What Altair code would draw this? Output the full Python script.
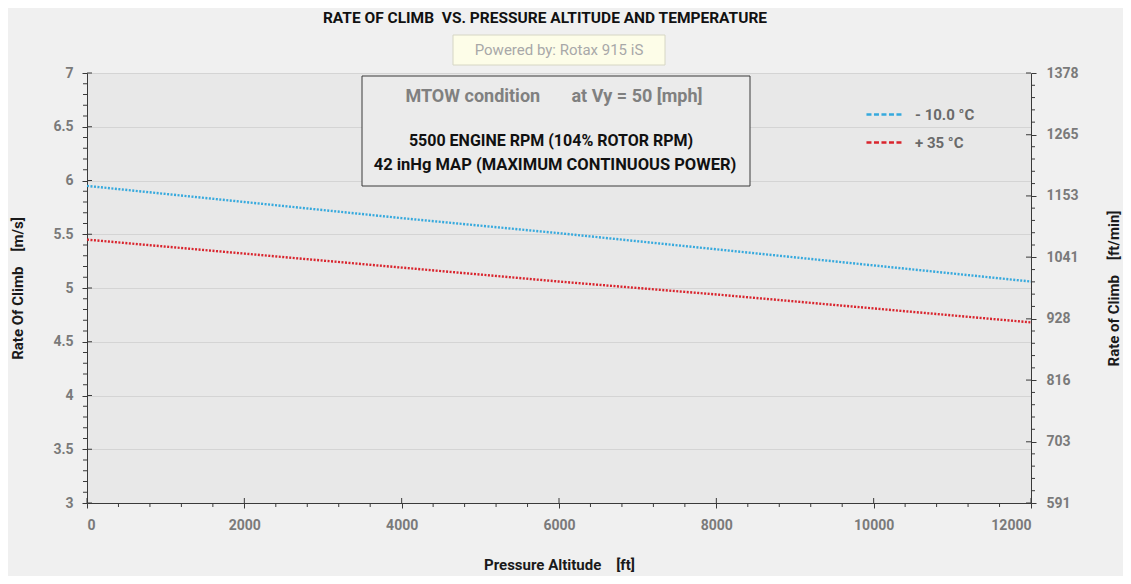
import altair as alt
import pandas as pd

# ---- data ----
altitude_ft = [0, 2000, 4000, 6000, 8000, 10000, 12000]
roc_cold = [5.95, 5.80, 5.65, 5.51, 5.36, 5.21, 5.06]   # -10 °C  [m/s]
roc_hot = [5.45, 5.32, 5.19, 5.06, 4.94, 4.81, 4.68]    # +35 °C  [m/s]
series_names = ["- 10.0 °C", "+ 35 °C"]
series_colors = ["#36a9dd", "#d9242d"]
left_ticks = [3, 3.5, 4, 4.5, 5, 5.5, 6, 6.5, 7]
right_ticks = [591, 703, 816, 928, 1041, 1153, 1265, 1378]
x_ticks = [0, 2000, 4000, 6000, 8000, 10000, 12000]
MS_TO_FPM = 196.85

left_minor = [round(3 + 0.1 * i, 2) for i in range(41) if i % 5]
x_minor = [400 * i for i in range(31) if i % 5]
right_minor = [591 + (1378 - 591) / 35 * i for i in range(36) if i % 5]

W, H = 944, 430
FONT = "Roboto"
AX = "#3a3a3a"
NB = "\u00a0"

rows = []
for name, vals in zip(series_names, [roc_cold, roc_hot]):
    for a, v in zip(altitude_ft, vals):
        rows.append({"alt": a, "roc": v, "series": name})
df = pd.DataFrame(rows)
df["fpm"] = df["roc"] * MS_TO_FPM

x_scale = alt.Scale(domain=[0, 12000], nice=False, zero=False)
yl_scale = alt.Scale(domain=[3, 7], nice=False, zero=False)
yr_scale = alt.Scale(domain=[591, 1378], nice=False, zero=False)

axis_common = dict(
    domainColor=AX, tickColor=AX, tickSize=5, labelColor="#7a7a7a",
    labelFont=FONT, labelFontSize=14, labelFontWeight="bold",
    titleFont=FONT, titleFontSize=15, titleFontWeight="bold", titleColor="#1a1a1a",
    labelExpr="'' + datum.value",
)

x_axis = alt.Axis(values=x_ticks, grid=False, labelPadding=10, titlePadding=25,
                  title=f"Pressure Altitude{NB*4}[ft]", **axis_common)
yl_axis = alt.Axis(values=left_ticks, grid=True, gridColor="#d4d4d4", labelPadding=9,
                   titlePadding=27, title=f"Rate Of Climb{NB*4}[m/s]", **axis_common)
yr_axis = alt.Axis(values=right_ticks, grid=False, orient="right", labelPadding=10,
                   titlePadding=43, titleAngle=270, title=f"Rate of Climb{NB*4}[ft/min]",
                   **axis_common)

lines = alt.Chart(df).mark_line(strokeWidth=2.4, strokeDash=[2, 1.5]).encode(
    x=alt.X("alt:Q", scale=x_scale, axis=x_axis),
    y=alt.Y("roc:Q", scale=yl_scale, axis=yl_axis),
    color=alt.Color(
        "series:N",
        scale=alt.Scale(domain=series_names, range=series_colors),
        sort=series_names,
        legend=alt.Legend(
            title=None, orient="none", legendX=778, legendY=22,
            symbolType="stroke", symbolSize=1300, symbolStrokeWidth=2.5,
            symbolDash=[5, 2.5], labelFont=FONT, labelFontSize=15,
            labelFontWeight="bold", labelColor="#6a6a6a", rowPadding=-5,
            labelOffset=11,
        ),
    ),
)

# invisible layer that carries the ft/min scale of the right axis
right_axis_layer = alt.Chart(df).mark_point(opacity=0).encode(
    x=alt.value(0),
    y=alt.Y("fpm:Q", scale=yr_scale, axis=yr_axis),
)


def vrules(values, scale, x0, x1):
    return alt.Chart(pd.DataFrame({"v": values})).mark_rule(color=AX, strokeWidth=1).encode(
        y=alt.Y("v:Q", scale=scale, axis=None), x=alt.value(x0), x2=alt.value(x1))


def hrules(values, y0, y1):
    return alt.Chart(pd.DataFrame({"v": values})).mark_rule(color=AX, strokeWidth=1).encode(
        x=alt.X("v:Q", scale=x_scale, axis=x_axis), y=alt.value(y0), y2=alt.value(y1))


one = pd.DataFrame({"k": [0]})


def rect(x0, x1, y0, y1, fill, stroke):
    return alt.Chart(one).mark_rect(fill=fill, stroke=stroke, strokeWidth=1).encode(
        x=alt.value(x0), x2=alt.value(x1), y=alt.value(y0), y2=alt.value(y1))


def label(text, x, y, size=13, weight="bold", color="#111111"):
    return alt.Chart(one).mark_text(text=text, font=FONT, fontSize=size, fontWeight=weight,
                                    color=color, align="center", baseline="middle").encode(
        x=alt.value(x), y=alt.value(y))


chart = alt.layer(
    rect(275, 663, 3, 113, "#ebebeb", "#3a3a3a"),
    lines,
    right_axis_layer,
    vrules(left_minor, yl_scale, -4, 0),
    vrules(left_ticks, yl_scale, 0, 5),
    vrules(right_minor, yr_scale, W, W + 4),
    vrules(right_ticks, yr_scale, W - 5, W),
    hrules(x_minor, H, H + 4),
    hrules(x_ticks, H - 5, H),
    label(f"MTOW condition{NB*7}at Vy = 50 [mph]", 467, 24, 18, "bold", "#808080"),
    label("5500 ENGINE RPM (104% ROTOR RPM)", 464, 68, 16),
    label("42 inHg MAP (MAXIMUM CONTINUOUS POWER)", 468, 92, 16.5),
    label(f"RATE OF CLIMB{NB}{NB}VS. PRESSURE ALTITUDE AND TEMPERATURE", 458, -55, 15.5),
    rect(366, 578, -38, -8, "#fdfde8", "#d6d6c4"),
    label("Powered by: Rotax 915 iS", 472, -23, 15, "normal", "#a8a8a8"),
).resolve_scale(y="independent").properties(
    width=W, height=H,
    autosize=alt.AutoSizeParams(type="none"),
    padding={"left": 79, "top": 65, "right": 92, "bottom": 73},
    background="#f0f0f0",
).configure_view(fill="#e8e8e8", stroke=None)

chart.save("out.html", embed_options={"renderer": "svg", "actions": False})
